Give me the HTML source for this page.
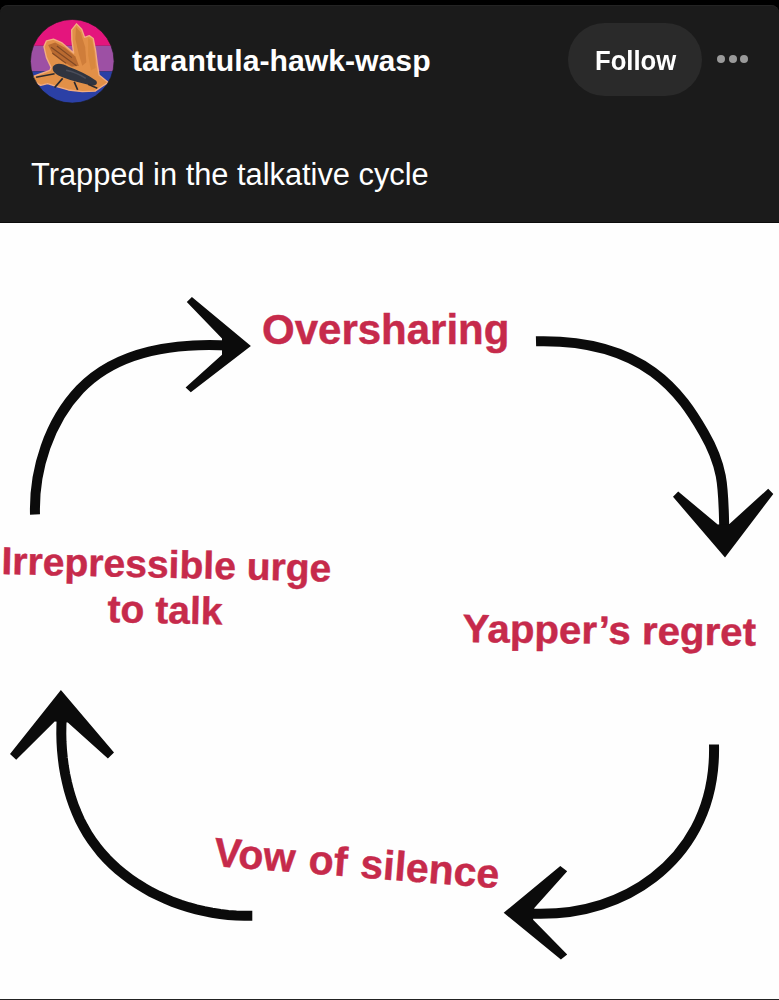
<!DOCTYPE html>
<html><head><meta charset="utf-8">
<style>
html,body{margin:0;padding:0;}
body{width:779px;height:1000px;overflow:hidden;background:#222;position:relative;font-family:"Liberation Sans",sans-serif;}
#hdr{position:absolute;left:0;top:5px;width:779px;height:217px;background:#1b1b1b;border-radius:8px 8px 0 0;box-shadow:inset 0 1px 0 #242424;border-bottom:1px solid #0c0c0c;}
#av{position:absolute;left:28px;top:16px;width:90px;height:90px;}
#user{position:absolute;left:132px;top:41px;font-size:30.2px;font-weight:bold;color:#fff;white-space:nowrap;line-height:40px;}
#follow{position:absolute;left:568px;top:23px;width:134px;height:73px;border-radius:37px;background:#2a2a2a;}
#follow span{position:absolute;left:26.5px;top:21px;font-size:27px;transform:scaleX(0.95);transform-origin:0 0;font-weight:bold;color:#fff;line-height:34px;}
.dot{position:absolute;top:55px;width:8px;height:8px;border-radius:50%;background:#9a9a9a;}
#cap{position:absolute;left:31px;top:155px;font-size:30.8px;color:#fff;white-space:nowrap;line-height:40px;}
#img{position:absolute;left:0;top:223px;width:779px;height:776px;background:#fefefe;}
.lbl{position:absolute;font-weight:bold;color:#c62a4b;-webkit-text-stroke:0.45px #c62a4b;white-space:nowrap;line-height:1;transform-origin:0 0;}
svg{position:absolute;left:0;top:0;}
</style></head><body>
<div style="position:absolute;left:0;top:0;width:779px;height:30px;background:#000"></div>
<div id="hdr">
</div>
<svg id="av" viewBox="0 0 779 779" width="90" height="90" style="left:28px;top:16px;filter:blur(0.7px)">
  <defs><clipPath id="cc"><circle cx="383" cy="392" r="362"/></clipPath></defs>
  <g clip-path="url(#cc)">
    <rect x="0" y="0" width="779" height="258" fill="#e4157d"/>
    <rect x="0" y="258" width="779" height="222" fill="#9d50a4"/>
    <rect x="0" y="480" width="779" height="300" fill="#2b40a6"/>
    <path d="M40,525 L110,500 L190,470 L200,445 L160,360 L138,265 L160,215 L220,200 L290,230 L360,290 L395,320 L380,210 L378,120 L420,68 L465,115 L490,185 L530,170 L565,195 L585,300 L600,420 L615,510 L695,575 L640,610 L580,650 L470,655 L350,640 L250,612 L170,585 L110,600 L60,570 Z" fill="#e29048" stroke="#f2ac80" stroke-width="12" stroke-linejoin="round"/>
    <path d="M175,250 L235,230 L320,275 L410,350 L440,430 L380,440 L290,390 L215,330 Z" fill="#b96a30"/>
    <path d="M200,270 L420,430 M250,260 L380,360 M210,320 L330,410" stroke="#6a3a20" stroke-width="10" fill="none" opacity="0.7"/>
    <path d="M415,95 L455,140 L495,270 L505,400 L470,430 L440,330 L410,200 Z" fill="#cf7d3a"/>
    <path d="M520,190 L555,215 L575,330 L585,450 L545,470 L520,340 Z" fill="#d9883e"/>
    <path d="M215,440 C240,400 300,410 350,440 C430,470 520,510 590,560 C610,590 580,610 540,600 C460,580 380,560 300,530 C240,510 205,480 215,440 Z" fill="#30343f"/>
    <path d="M330,470 C380,480 440,500 500,540" stroke="#5a5e6a" stroke-width="14" fill="none" opacity="0.6"/>
    <path d="M230,500 L70,530 M300,540 L230,620 M400,570 L430,640 M520,590 L600,625" stroke="#2a2a30" stroke-width="14" fill="none"/>
  </g>
  <circle cx="383" cy="392" r="362" fill="none" stroke="#1b1b1b" stroke-width="6"/>
</svg>
<div id="user">tarantula-hawk-wasp</div>
<div id="follow"><span>Follow</span></div>
<div class="dot" style="left:717px"></div>
<div class="dot" style="left:729px"></div>
<div class="dot" style="left:740px"></div>
<div id="cap">Trapped in the talkative cycle</div>
<div id="img"></div>
<svg width="779" height="1000" viewBox="0 0 779 1000">
  <g fill="none" stroke="#0b0b0b" stroke-width="10" stroke-linecap="butt">
    <path d="M35.0,514.5 C33.7,469.4 49.3,421.6 80.0,389.3 C117.3,350.1 177.4,342.5 230.0,345.5"/>
    <path d="M536.0,341.3 C645.8,338.5 682.2,395.4 703.8,432.7 C724.4,468.2 723.2,489.4 724.3,530.0"/>
    <path d="M714.0,744.5 C715.7,813.5 683.0,854.8 653.6,877.5 C625.8,899.0 584.0,916.5 528.0,913.5"/>
    <path d="M252.3,915.7 L244.3,915.7 L236.2,915.5 L228.2,914.9 L220.2,914.0 L212.2,912.7 L204.2,911.2 L196.3,909.3 L188.5,907.2 L180.8,904.7 L173.1,902.0 L165.7,898.9 L158.3,895.6 L151.1,892.0 L144.1,888.0 L137.3,883.8 L130.7,879.4 L124.3,874.6 L118.2,869.6 L112.3,864.3 L106.7,858.7 L101.4,852.9 L96.5,846.8 L91.8,840.5 L87.5,833.9 L83.6,827.0 L79.9,820.0 L76.7,812.7 L73.7,805.3 L71.1,797.7 L68.8,790.0 L66.9,782.1 L65.2,774.2 L63.8,766.2 L62.8,758.1 L62.0,750.0 L61.5,741.9 L61.3,733.8 L61.4,725.7 L61.7,717.7"/>
  </g>
  <g fill="#0b0b0b">
    <path d="M191.9,296.9 L250.9,346 L190.8,392.2 L185.6,387.6 L222,354.7 L222,338.5 L186.8,302.1 Z"/>
    <path d="M673,496.8 L725,557.6 L773.3,493.9 L768.2,488.8 L729.4,523.9 L717.7,524.6 L678.2,491.4 Z"/>
    <path d="M503.7,912.8 L560.3,866 L567.2,871.2 L534.3,908.1 L533.1,919.7 L567.2,954.4 L560.9,959.6 Z"/>
    <path d="M60.9,690 L114,752.4 L107.9,758.6 L67.8,722.4 L54.7,721.6 L16.2,759.8 L10,754 Z"/>
  </g>
</svg>
<div class="lbl" id="l1" style="left:262px;top:309px;font-size:42px;">Oversharing</div>
<div class="lbl" id="l2" style="left:2px;top:542px;font-size:38.5px;transform:rotate(1.3deg) scaleX(1.014)">Irrepressible urge</div>
<div class="lbl" id="l3" style="left:108px;top:589.5px;font-size:38.5px;transform:rotate(1.3deg) scaleX(1.014)">to talk</div>
<div class="lbl" id="l4" style="left:463px;top:609px;font-size:39.5px;transform:rotate(0.7deg) scaleX(1.02)">Yapper’s regret</div>
<div class="lbl" id="l5" style="left:216px;top:832px;font-size:41px;word-spacing:2px;transform:rotate(4.5deg)">Vow of silence</div>
</body></html>
